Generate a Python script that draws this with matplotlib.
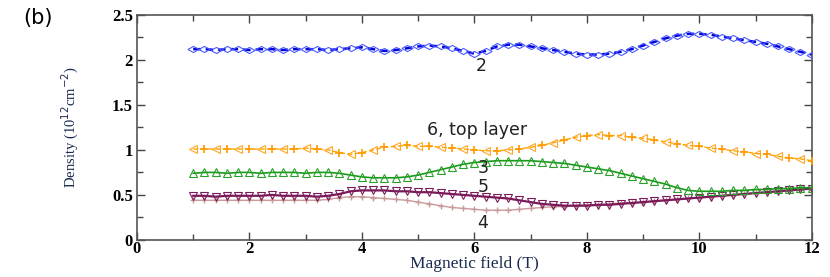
import numpy as np
import matplotlib
matplotlib.use("Agg")
import matplotlib.pyplot as plt
from matplotlib.ticker import MultipleLocator

field = [1.0, 1.2, 1.4, 1.6, 1.8, 2.0, 2.2, 2.4, 2.6, 2.8, 3.0, 3.2, 3.4, 3.6, 3.8,
         4.0, 4.2, 4.4, 4.6, 4.8, 5.0, 5.2, 5.4, 5.6, 5.8, 6.0, 6.2, 6.4, 6.6, 6.8,
         7.0, 7.2, 7.4, 7.6, 7.8, 8.0, 8.2, 8.4, 8.6, 8.8, 9.0, 9.2, 9.4, 9.6, 9.8,
         10.0, 10.2, 10.4, 10.6, 10.8, 11.0, 11.2, 11.4, 11.6, 11.8, 12.0]

dens2 = [2.12, 2.12, 2.11, 2.12, 2.12, 2.11, 2.12, 2.12, 2.11, 2.12, 2.12, 2.12, 2.11, 2.12, 2.13,
         2.14, 2.12, 2.10, 2.11, 2.13, 2.15, 2.16, 2.15, 2.13, 2.10, 2.07, 2.10, 2.15, 2.17, 2.17,
         2.15, 2.13, 2.11, 2.09, 2.07, 2.06, 2.06, 2.07, 2.09, 2.12, 2.16, 2.20, 2.24, 2.27, 2.29,
         2.29, 2.28, 2.26, 2.24, 2.22, 2.20, 2.18, 2.15, 2.12, 2.09, 2.06]

dens6 = [1.01, 1.01, 1.01, 1.01, 1.01, 1.01, 1.01, 1.01, 1.01, 1.01, 1.02, 1.01, 1.00, 0.97, 0.95,
         0.97, 1.00, 1.03, 1.04, 1.05, 1.04, 1.04, 1.03, 1.02, 1.01, 1.00, 0.99, 0.99, 1.00, 1.01,
         1.03, 1.05, 1.08, 1.11, 1.14, 1.16, 1.17, 1.16, 1.16, 1.14, 1.13, 1.11, 1.09, 1.07, 1.05,
         1.04, 1.02, 1.01, 0.99, 0.98, 0.96, 0.95, 0.93, 0.91, 0.90, 0.88]

dens3 = [0.74, 0.75, 0.75, 0.74, 0.75, 0.75, 0.74, 0.75, 0.75, 0.75, 0.74, 0.75, 0.75, 0.74, 0.72,
         0.70, 0.69, 0.69, 0.69, 0.70, 0.72, 0.75, 0.78, 0.81, 0.84, 0.86, 0.87, 0.88, 0.88, 0.88,
         0.88, 0.87, 0.86, 0.85, 0.83, 0.81, 0.79, 0.77, 0.74, 0.71, 0.68, 0.65, 0.62, 0.58, 0.55,
         0.54, 0.54, 0.54, 0.55, 0.55, 0.56, 0.56, 0.57, 0.57, 0.58, 0.58]

dens5 = [0.49, 0.49, 0.48, 0.49, 0.49, 0.49, 0.49, 0.50, 0.49, 0.49, 0.49, 0.48, 0.49, 0.51, 0.54,
         0.55, 0.55, 0.55, 0.54, 0.54, 0.53, 0.53, 0.52, 0.51, 0.50, 0.49, 0.48, 0.47, 0.46, 0.44,
         0.42, 0.40, 0.39, 0.38, 0.38, 0.38, 0.39, 0.39, 0.40, 0.41, 0.42, 0.43, 0.44, 0.45, 0.46,
         0.47, 0.48, 0.49, 0.50, 0.51, 0.52, 0.53, 0.54, 0.55, 0.56, 0.57]

dens4 = [0.44, 0.44, 0.44, 0.44, 0.44, 0.44, 0.44, 0.44, 0.44, 0.44, 0.44, 0.44, 0.45, 0.47, 0.48,
         0.48, 0.47, 0.46, 0.45, 0.44, 0.42, 0.40, 0.38, 0.36, 0.35, 0.34, 0.33, 0.33, 0.33, 0.34,
         0.35, 0.36, 0.37, 0.37, 0.38, 0.39, 0.39, 0.40, 0.41, 0.41, 0.42, 0.43, 0.44, 0.45, 0.46,
         0.47, 0.48, 0.49, 0.50, 0.51, 0.52, 0.53, 0.54, 0.55, 0.56, 0.57]

x_ticks = [0, 2, 4, 6, 8, 10, 12]
x_ticklabels = ["0", "2", "4", "6", "8", "10", "12"]
y_ticks = [0, 0.5, 1, 1.5, 2, 2.5]
y_ticklabels = ["0", "0.5", "1", "1.5", "2", "2.5"]

labels = ["2", "6, top layer", "3", "5", "4"]
label_pos = [(6.13, 1.93), (6.05, 1.22), (6.15, 0.80), (6.15, 0.59), (6.15, 0.19)]

fig = plt.figure(figsize=(8.3, 2.77), dpi=100)
ax = fig.add_axes([0.165, 0.134, 0.813, 0.812])

wide_diamond = [(-1, 0), (0, 0.55), (1, 0), (0, -0.55), (-1, 0)]

# series 4 (pink, plus markers)
ax.plot(field, dens4, color="#c89a9a", lw=1.0, marker="+", ms=5, mew=1.0, zorder=2)
# series 5 (purple, down triangles)
ax.plot(field, dens5, color="#7a1a5a", lw=1.6, zorder=3)
ax.plot(field, dens5, ls="none", marker="v", ms=5.5, mfc="none", mec="#7a1a5a", mew=0.8, zorder=3)
# series 3 (green, up triangles)
ax.plot(field, dens3, color="#1a9a1a", lw=1.2, zorder=3)
ax.plot(field, dens3, ls="none", marker="^", ms=5.5, mfc="none", mec="#2aa02a", mew=0.8, zorder=3)
# series 6 (orange, left triangles + plus)
ax.plot(field, dens6, color="#ffa500", lw=1.0, ls="--", zorder=3)
ax.plot(field, dens6, ls="none", marker="<", ms=6, mfc="none", mec="#ffa726", mew=0.8,
        markevery=(0, 2), zorder=3)
ax.plot(field, dens6, ls="none", marker="+", ms=6, mec="#ff9900", mew=1.2,
        markevery=(1, 2), zorder=3)
# series 2 (blue, diamonds)
ax.plot(field, dens2, color="#0000dd", lw=1.8, ls=(0, (3, 2)), zorder=3)
ax.plot(field, dens2, ls="none", marker=wide_diamond, ms=8, mfc="none", mec="#4a5cff",
        mew=0.8, zorder=3)

for txt, (lx, ly) in zip(labels, label_pos):
    ax.text(lx, ly, txt, ha="center", va="center", fontsize=12.5,
            family="DejaVu Sans", color="#222222")

ax.set_xlim(0, 12)
ax.set_ylim(0, 2.5)
ax.set_xticks(x_ticks)
ax.set_xticklabels(x_ticklabels, family="Liberation Serif", fontweight="bold", fontsize=12)
ax.set_yticks(y_ticks)
ax.set_yticklabels(y_ticklabels, family="Liberation Serif", fontweight="bold", fontsize=12)
ax.xaxis.set_minor_locator(MultipleLocator(1))
ax.yaxis.set_minor_locator(MultipleLocator(0.25))
ax.tick_params(which="both", direction="in", top=True, right=True, color="#444444")
ax.tick_params(which="major", length=6, width=1)
ax.tick_params(axis="x", which="major", pad=1)
ax.tick_params(axis="y", which="major", pad=3)
ax.tick_params(which="minor", length=4, width=1)
for sp in ax.spines.values():
    sp.set_color("#555555")
    sp.set_linewidth(1.2)

ax.set_xlabel("Magnetic field (T)", family="Liberation Serif", fontsize=12.5,
              color="#1a2a50", labelpad=-1)
ax.set_ylabel(r"Density (10$^{12}$cm$^{-2}$)", family="Liberation Serif", fontsize=10.5,
              color="#1a2a50", labelpad=22)
fig.text(0.028, 0.935, "(b)", fontsize=15, family="DejaVu Sans", ha="left", va="center")

fig.savefig("out.png", dpi=100)
